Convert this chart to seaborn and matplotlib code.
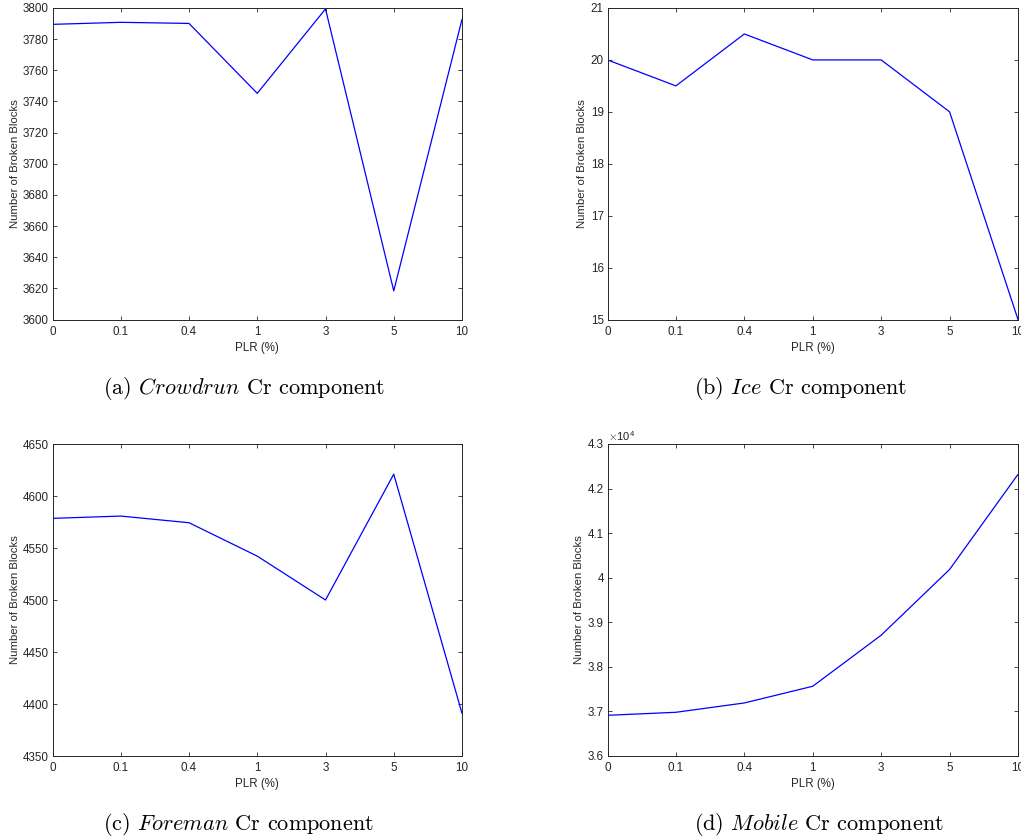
import numpy as np
import pandas as pd
import matplotlib
matplotlib.use("Agg")
import matplotlib.pyplot as plt
from matplotlib.ticker import FixedLocator, FuncFormatter
import seaborn as sns

# Packet loss rates (%) on the x axis
plr_labels = ["0", "0.1", "0.4", "1", "3", "5", "10"]

# Number of broken blocks in the Cr component per sequence
crowdrun_cr = [3789.5, 3790.8, 3790.1, 3745.2, 3799.4, 3618.4, 3792.7]
ice_cr = [20, 19.5, 20.5, 20, 20, 19, 15]
foreman_cr = [4578.5, 4580.7, 4574.3, 4542.2, 4500, 4621, 4391]
mobile_cr = [36913, 36981, 37190, 37565, 38710, 40185, 42319]

sequence_names = ["Crowdrun", "Ice", "Foreman", "Mobile"]
panel_tags = ["a", "b", "c", "d"]

y_ticks = [
    np.arange(3600, 3801, 20),
    np.arange(15, 22, 1),
    np.arange(4350, 4651, 50),
    np.arange(36000, 43001, 1000),
]

sns.set_theme(style="ticks")
plt.rcParams["font.family"] = ["Liberation Sans", "DejaVu Sans"]
plt.rcParams["mathtext.fontset"] = "cm"

AX_COLOR = "#262626"
W, H = 1021, 839
fig = plt.figure(figsize=(W / 100, H / 100), dpi=100)

# axes boxes in pixel units: (left, top, right, bottom)
boxes = [
    (52.5, 8, 462, 319.5),
    (607.5, 8, 1018, 319.5),
    (52.5, 444, 462, 756),
    (607.5, 444, 1018, 756),
]
label_x = [-0.080, -0.050, -0.080, -0.058]
caption_pos = [(103, 389), (694, 389), (103, 824), (694, 824)]

series = [crowdrun_cr, ice_cr, foreman_cr, mobile_cr]

for i, (vals, box) in enumerate(zip(series, boxes)):
    l, t, r, b = box
    ax = fig.add_axes([l / W, 1 - b / H, (r - l) / W, (b - t) / H])
    df = pd.DataFrame({"PLR": plr_labels, "blocks": vals})
    sns.lineplot(data=df, x="PLR", y="blocks", ax=ax, color="#0000ff",
                 linewidth=0.9, sort=False)
    ax.set_xlim(0, len(plr_labels) - 1)
    yt = y_ticks[i]
    ax.set_ylim(yt[0], yt[-1])
    ax.yaxis.set_major_locator(FixedLocator(yt))
    if i == 3:
        ax.yaxis.set_major_formatter(FuncFormatter(lambda v, p: f"{v / 1e4:g}"))
        ax.text(0.0, 1.003, r"$\times\mathregular{10^{4}}$", transform=ax.transAxes,
                ha="left", va="bottom", fontsize=8, color=AX_COLOR)
    else:
        ax.yaxis.set_major_formatter(FuncFormatter(lambda v, p: f"{v:g}"))
    ax.set_xlabel("PLR (%)", fontsize=8.3, color=AX_COLOR, labelpad=3)
    ax.set_ylabel("Number of Broken Blocks", fontsize=8.2, color=AX_COLOR)
    ax.yaxis.set_label_coords(label_x[i], 0.5)
    ax.tick_params(direction="in", top=True, right=True, length=3.2,
                   width=0.6, color=AX_COLOR, labelcolor=AX_COLOR,
                   labelsize=8.4)
    ax.tick_params(axis="x", pad=4.5)
    ax.tick_params(axis="y", pad=2.7)
    for sp in ax.spines.values():
        sp.set_visible(True)
        sp.set_color(AX_COLOR)
        sp.set_linewidth(0.7)

    cx, cy = caption_pos[i]
    fig.text(cx / W, 1 - cy / H,
             rf"({panel_tags[i]}) $\mathit{{{sequence_names[i]}}}$ Cr component",
             family="cmr10", fontsize=16, ha="left", va="center", color="black")

fig.savefig("out.png", dpi=100)
